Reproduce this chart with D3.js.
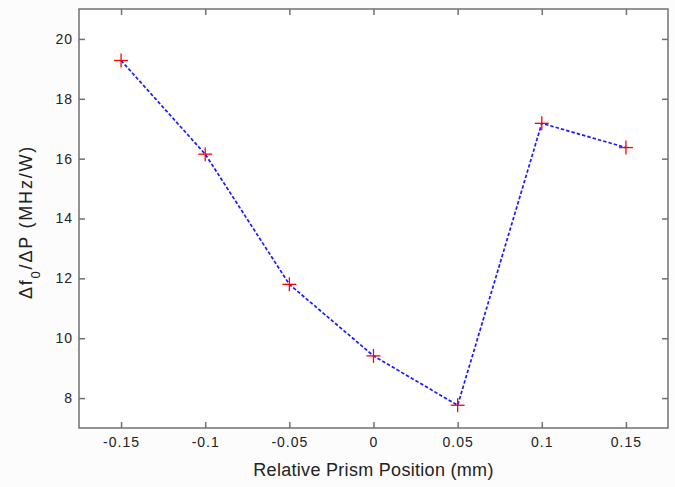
<!DOCTYPE html>
<html>
<head>
<meta charset="utf-8">
<script src="https://cdn.jsdelivr.net/npm/d3@7"></script>
<style>
  body { margin: 0; background: #fcfcfc; }
  svg { display: block; font-family: "Liberation Sans", Arial, sans-serif; }
</style>
</head>
<body>
<div id="chart"></div>
<script>
// values
const positions = [-0.15, -0.1, -0.05, 0, 0.05, 0.1, 0.15];
const sensitivity = [19.28, 16.15, 11.8, 9.41, 7.76, 17.18, 16.37];
const xTicks = [-0.15, -0.1, -0.05, 0, 0.05, 0.1, 0.15];
const yTicks = [8, 10, 12, 14, 16, 18, 20];

const width = 675, height = 487;
const margin = { top: 9, right: 7, bottom: 59, left: 79 };
const plotW = width - margin.left - margin.right;
const plotH = height - margin.top - margin.bottom;
const axisColor = "#707070";

const svg = d3.select("#chart").append("svg")
    .attr("width", width)
    .attr("height", height);

const x = d3.scaleLinear().domain([-0.175, 0.175]).range([0, plotW]);
const y = d3.scaleLinear().domain([7, 21]).range([plotH, 0]);

const g = svg.append("g").attr("transform", `translate(${margin.left},${margin.top})`);

g.append("rect")
    .attr("width", plotW).attr("height", plotH)
    .attr("fill", "#ffffff");

// matlab style: ticks pointing inward on all four sides
const fmt = d => d === 0 ? "0" : String(d);
const styleAxis = (sel, showLabels) => {
    sel.select(".domain").remove();
    sel.selectAll(".tick line").attr("stroke", axisColor).attr("stroke-width", 1.5);
    sel.selectAll(".tick text")
        .attr("fill", "#222")
        .style("font-size", "14px")
        .style("letter-spacing", "1px")
        .style("display", showLabels ? null : "none");
};

g.append("g").attr("transform", `translate(0,${plotH})`)
    .call(d3.axisBottom(x).tickValues(xTicks).tickFormat(fmt).tickSizeInner(-6).tickPadding(9))
    .call(s => styleAxis(s, true));
g.append("g")
    .call(d3.axisTop(x).tickValues(xTicks).tickSizeInner(-6))
    .call(s => styleAxis(s, false));
g.append("g")
    .call(d3.axisLeft(y).tickValues(yTicks).tickSizeInner(-6).tickPadding(6))
    .call(s => styleAxis(s, true));
g.append("g").attr("transform", `translate(${plotW},0)`)
    .call(d3.axisRight(y).tickValues(yTicks).tickSizeInner(-6))
    .call(s => styleAxis(s, false));

g.append("rect")
    .attr("width", plotW).attr("height", plotH)
    .attr("fill", "none")
    .attr("stroke", axisColor)
    .attr("stroke-width", 1.5);

const pts = positions.map((p, i) => [p, sensitivity[i]]);

g.append("path")
    .datum(pts)
    .attr("fill", "none")
    .attr("stroke", "#1a1aff")
    .attr("stroke-width", 1.7)
    .attr("stroke-dasharray", "3.5,2")
    .attr("d", d3.line().x(d => x(d[0])).y(d => y(d[1])));

const m = 7;
const marks = g.selectAll(".mark").data(pts).enter().append("g")
    .attr("transform", d => `translate(${x(d[0])},${y(d[1])})`);
marks.append("line").attr("x1", -m).attr("x2", m)
    .attr("stroke", "#ff0000").attr("stroke-width", 1.3);
marks.append("line").attr("y1", -m).attr("y2", m)
    .attr("stroke", "#ff0000").attr("stroke-width", 1.3);

// axis titles
svg.append("text")
    .attr("x", margin.left + plotW / 2)
    .attr("y", 476)
    .attr("text-anchor", "middle")
    .attr("fill", "#222")
    .style("font-size", "18px")
    .style("letter-spacing", "0.3px")
    .text("Relative Prism Position (mm)");

const yl = svg.append("text")
    .attr("transform", `translate(32,222) rotate(-90)`)
    .attr("text-anchor", "middle")
    .attr("fill", "#222")
    .style("font-size", "18px")
    .style("letter-spacing", "1.8px");
yl.append("tspan").text("\u0394f");
yl.append("tspan").attr("baseline-shift", "sub").style("font-size", "13px").text("0");
yl.append("tspan").text("/\u0394P (MHz/W)");
</script>
</body>
</html>
